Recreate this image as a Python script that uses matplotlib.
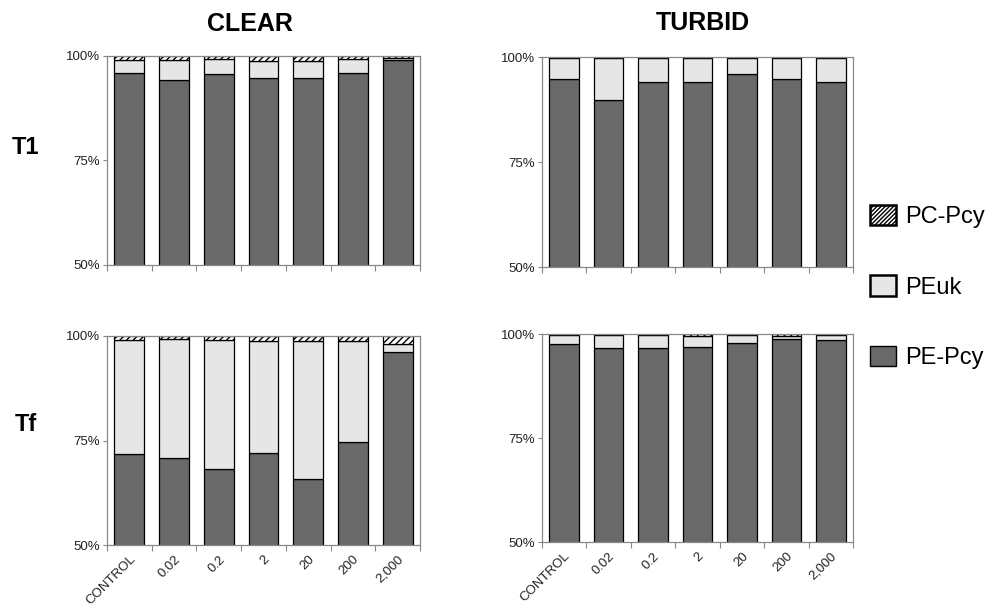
import numpy as np
import matplotlib
matplotlib.use("Agg")
import matplotlib.pyplot as plt
from matplotlib.patches import Patch

plt.rcParams['font.family'] = ['Liberation Sans', 'DejaVu Sans']
plt.rcParams['hatch.linewidth'] = 1.0

categories = ['CONTROL', '0.02', '0.2', '2', '20', '200', '2,000']

# percent of each group
pe_clear_t1 = [96.0, 94.3, 95.6, 94.8, 94.8, 95.9, 99.0]
peuk_clear_t1 = [3.0, 4.7, 3.7, 4.1, 4.1, 3.3, 0.5]
pc_clear_t1 = [1.0, 1.0, 0.7, 1.1, 1.1, 0.8, 0.5]

pe_clear_tf = [71.7, 70.9, 68.3, 71.9, 65.8, 74.7, 96.1]
peuk_clear_tf = [27.3, 28.4, 30.7, 26.9, 33.0, 24.1, 2.1]
pc_clear_tf = [1.0, 0.7, 1.0, 1.2, 1.2, 1.2, 1.8]

pe_turbid_t1 = [94.8, 89.8, 94.0, 94.0, 96.0, 94.8, 94.0]
peuk_turbid_t1 = [5.0, 10.0, 5.8, 5.8, 3.8, 5.0, 5.8]
pc_turbid_t1 = [0.2, 0.2, 0.2, 0.2, 0.2, 0.2, 0.2]

pe_turbid_tf = [97.6, 96.8, 96.8, 97.0, 98.0, 98.8, 98.6]
peuk_turbid_tf = [2.2, 3.0, 3.0, 2.5, 1.8, 0.8, 1.1]
pc_turbid_tf = [0.2, 0.2, 0.2, 0.5, 0.2, 0.4, 0.3]

dark = '#696969'
light = '#e6e6e6'

fig = plt.figure(figsize=(9.95, 6.13), dpi=100)

panels = [
    ([0.1075, 0.5677, 0.3146, 0.341], pe_clear_t1, peuk_clear_t1, pc_clear_t1, False),
    ([0.1075, 0.1109, 0.3146, 0.341], pe_clear_tf, peuk_clear_tf, pc_clear_tf, True),
    ([0.5447, 0.5644, 0.3126, 0.3426], pe_turbid_t1, peuk_turbid_t1, pc_turbid_t1, False),
    ([0.5447, 0.1158, 0.3126, 0.339], pe_turbid_tf, peuk_turbid_tf, pc_turbid_tf, True),
]

x = np.arange(len(categories))
w = 0.667
for pos, pe, peuk, pc, show_x in panels:
    ax = fig.add_axes(pos)
    pe = np.array(pe)
    peuk = np.array(peuk)
    pc = np.array(pc)
    ax.bar(x, pe, w, color=dark, edgecolor='black', linewidth=0.9)
    ax.bar(x, peuk, w, bottom=pe, color=light, edgecolor='black', linewidth=0.9)
    ax.bar(x, pc, w, bottom=pe + peuk, color='white', edgecolor='black',
           hatch='/////', linewidth=0.9)
    ax.set_xlim(-0.5, 6.5)
    ax.set_ylim(50, 100)
    ax.set_yticks([50, 75, 100])
    ax.set_yticklabels(['50%', '75%', '100%'], fontsize=9.5, color='#222222')
    ax.set_xticks(np.arange(-0.5, 7, 1))
    ax.set_xticklabels([])
    ax.tick_params(axis='x', which='major', length=4, color='#888888')
    ax.tick_params(axis='y', length=3, color='#888888', pad=2)
    if show_x:
        ax.set_xticks(x, minor=True)
        ax.set_xticklabels(categories, minor=True, rotation=45, ha='right',
                           rotation_mode='anchor', fontsize=9.5, color='#222222')
        ax.tick_params(axis='x', which='minor', length=0, pad=6)
    for s in ax.spines.values():
        s.set_color('#888888')
        s.set_linewidth(0.9)

fig.text(0.2513, 0.961, 'CLEAR', fontsize=18, fontweight='bold', ha='center', va='center')
fig.text(0.7065, 0.9625, 'TURBID', fontsize=18, fontweight='bold', ha='center', va='center')
fig.text(0.0261, 0.7586, 'T1', fontsize=17, fontweight='bold', ha='center', va='center')
fig.text(0.0261, 0.3083, 'Tf', fontsize=17, fontweight='bold', ha='center', va='center')

handles = [
    Patch(facecolor='white', edgecolor='black', hatch='////////', linewidth=1.8, label='PC-Pcy'),
    Patch(facecolor=light, edgecolor='black', linewidth=1.8, label='PEuk'),
    Patch(facecolor=dark, edgecolor='black', linewidth=1.0, label='PE-Pcy'),
]
fig.legend(handles=handles, loc='center left', bbox_to_anchor=(0.853, 0.532),
           frameon=False, fontsize=17, labelspacing=2.0, handlelength=1.1,
           handleheight=0.95, handletextpad=0.4)

fig.savefig('out.png', dpi=100)
